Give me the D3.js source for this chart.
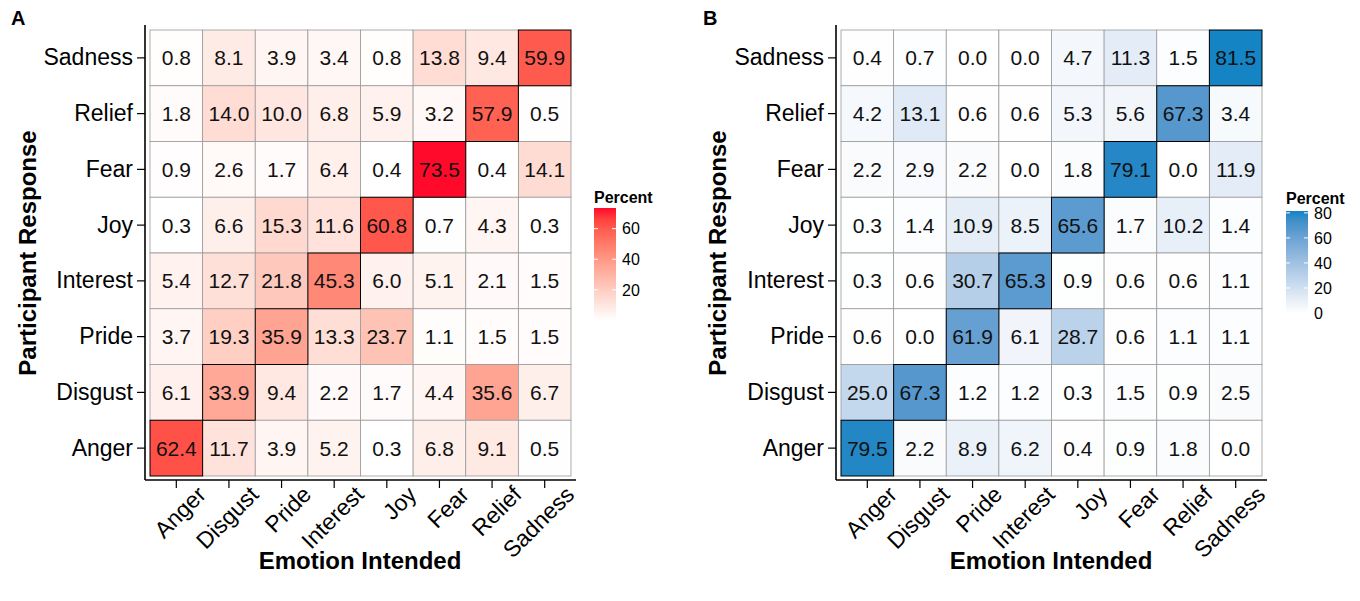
<!DOCTYPE html>
<html>
<head>
<meta charset="utf-8">
<script src="https://cdn.jsdelivr.net/npm/d3@7"></script>
<style>
  body { margin: 0; background: #fff; }
  text { font-family: "Liberation Sans", Arial, sans-serif; }
</style>
</head>
<body>
<svg id="chart" width="1360" height="601"></svg>
<script>
// emotions, used on both axes
const emotions = ['Anger', 'Disgust', 'Pride', 'Interest', 'Joy', 'Fear', 'Relief', 'Sadness'];

// rows = participant response (Sadness at top ... Anger at bottom), cols = emotion intended
const rowsTop = ['Sadness', 'Relief', 'Fear', 'Joy', 'Interest', 'Pride', 'Disgust', 'Anger'];

const valuesA = [
  [0.8, 8.1, 3.9, 3.4, 0.8, 13.8, 9.4, 59.9],
  [1.8, 14.0, 10.0, 6.8, 5.9, 3.2, 57.9, 0.5],
  [0.9, 2.6, 1.7, 6.4, 0.4, 73.5, 0.4, 14.1],
  [0.3, 6.6, 15.3, 11.6, 60.8, 0.7, 4.3, 0.3],
  [5.4, 12.7, 21.8, 45.3, 6.0, 5.1, 2.1, 1.5],
  [3.7, 19.3, 35.9, 13.3, 23.7, 1.1, 1.5, 1.5],
  [6.1, 33.9, 9.4, 2.2, 1.7, 4.4, 35.6, 6.7],
  [62.4, 11.7, 3.9, 5.2, 0.3, 6.8, 9.1, 0.5]
];

const valuesB = [
  [0.4, 0.7, 0.0, 0.0, 4.7, 11.3, 1.5, 81.5],
  [4.2, 13.1, 0.6, 0.6, 5.3, 5.6, 67.3, 3.4],
  [2.2, 2.9, 2.2, 0.0, 1.8, 79.1, 0.0, 11.9],
  [0.3, 1.4, 10.9, 8.5, 65.6, 1.7, 10.2, 1.4],
  [0.3, 0.6, 30.7, 65.3, 0.9, 0.6, 0.6, 1.1],
  [0.6, 0.0, 61.9, 6.1, 28.7, 0.6, 1.1, 1.1],
  [25.0, 67.3, 1.2, 1.2, 0.3, 1.5, 0.9, 2.5],
  [79.5, 2.2, 8.9, 6.2, 0.4, 0.9, 1.8, 0.0]
];

const legendTicksA = [20, 40, 60];
const legendTicksB = [0, 20, 40, 60, 80];

const svg = d3.select('#chart');

function toCells(values) {
  const out = [];
  rowsTop.forEach((r, i) => emotions.forEach((c, j) => {
    out.push({ row: r, col: c, v: values[i][j], diag: r === c });
  }));
  return out;
}

function drawPanel(o) {
  const cells = toCells(o.values);
  const g = svg.append('g');

  const x = d3.scaleBand().domain(emotions).range([o.left, o.left + 421]);
  const y = d3.scaleBand().domain(rowsTop).range([30, 476]);

  const ext = d3.extent(cells, d => d.v);
  const col = d3.scaleLinear().domain([o.zeroMin ? 0 : ext[0], ext[1]])
    .range(['#ffffff', o.high]).interpolate(d3.interpolateLab);

  const sorted = cells.slice().sort((a, b) => a.diag - b.diag);
  g.selectAll('rect.cell')
    .data(sorted)
    .join('rect')
      .attr('class', 'cell')
      .attr('x', d => x(d.col))
      .attr('y', d => y(d.row))
      .attr('width', x.bandwidth())
      .attr('height', y.bandwidth())
      .attr('fill', d => col(d.v))
      .attr('stroke', d => d.diag ? '#000' : '#9a9a9a')
      .attr('stroke-width', d => d.diag ? 1 : 0.8);

  g.selectAll('text.val')
    .data(cells)
    .join('text')
      .attr('class', 'val')
      .attr('x', d => x(d.col) + x.bandwidth() / 2)
      .attr('y', d => y(d.row) + y.bandwidth() / 2)
      .attr('dy', '0.36em')
      .attr('text-anchor', 'middle')
      .attr('font-size', 21)
      .attr('fill', '#111')
      .text(d => d.v.toFixed(1));

  // axes
  const ax = o.left - 5;
  const yAxis = g.append('g')
    .attr('transform', `translate(${ax},0)`)
    .call(d3.axisLeft(y).tickSize(8).tickSizeOuter(0).tickPadding(4));
  yAxis.select('.domain').attr('d', `M0,25V480`);
  const xAxis = g.append('g')
    .attr('transform', `translate(0,480)`)
    .call(d3.axisBottom(x).tickSize(8).tickSizeOuter(0));
  xAxis.select('.domain').attr('d', `M${ax},0H${o.left + 426}`);
  g.selectAll('.domain').attr('stroke', '#000').attr('stroke-width', 1.6);
  g.selectAll('.tick line').attr('stroke', '#000').attr('stroke-width', 1.2);
  yAxis.selectAll('.tick text')
    .attr('font-size', 23).attr('fill', '#000')
    .attr('font-family', '"Liberation Sans", Arial, sans-serif');
  xAxis.selectAll('.tick text')
    .attr('font-size', 23).attr('fill', '#000')
    .attr('font-family', '"Liberation Sans", Arial, sans-serif')
    .attr('text-anchor', 'end')
    .attr('dy', null)
    .attr('y', 0)
    .attr('transform', 'translate(31,16) rotate(-45)');

  // titles
  g.append('text')
    .attr('transform', `translate(${o.ylabX},253) rotate(-90)`)
    .attr('text-anchor', 'middle')
    .attr('dy', '0.36em')
    .attr('font-size', 24).attr('font-weight', 'bold')
    .text('Participant Response');
  g.append('text')
    .attr('x', o.left + 210).attr('y', 569)
    .attr('text-anchor', 'middle')
    .attr('font-size', 24).attr('font-weight', 'bold')
    .text('Emotion Intended');
  g.append('text')
    .attr('x', o.tagX).attr('y', 25)
    .attr('font-size', 20).attr('font-weight', 'bold')
    .text(o.tag);

  // legend
  const lg = g.append('g');
  const ls = d3.scaleLinear().domain(col.domain()).range([o.legBottom, o.legTop]);
  const gradId = 'grad' + o.tag;
  const grad = svg.append('defs').append('linearGradient')
    .attr('id', gradId).attr('x1', 0).attr('x2', 0).attr('y1', 1).attr('y2', 0);
  d3.range(0, 1.0001, 0.1).forEach(t => {
    const v = col.domain()[0] + t * (col.domain()[1] - col.domain()[0]);
    grad.append('stop').attr('offset', t).attr('stop-color', col(v));
  });
  lg.append('text')
    .attr('x', o.legX).attr('y', o.legTitleY)
    .attr('font-size', 16).attr('font-weight', 'bold')
    .text('Percent');
  lg.append('rect')
    .attr('x', o.legX).attr('y', o.legTop)
    .attr('width', 22).attr('height', o.legBottom - o.legTop)
    .attr('fill', `url(#${gradId})`);
  lg.selectAll('line.lt')
    .data(o.legTicks.flatMap(t => [[t, 0], [t, 1]]))
    .join('line')
      .attr('x1', d => d[1] ? o.legX + 22 - 4 : o.legX)
      .attr('x2', d => d[1] ? o.legX + 22 : o.legX + 4)
      .attr('y1', d => ls(d[0])).attr('y2', d => ls(d[0]))
      .attr('stroke', '#fff').attr('stroke-width', 1);
  lg.selectAll('text.ll')
    .data(o.legTicks)
    .join('text')
      .attr('class', 'll')
      .attr('x', o.legX + 28)
      .attr('y', d => ls(d))
      .attr('dy', '0.36em')
      .attr('font-size', 16)
      .text(d => d);
}

drawPanel({
  values: valuesA, left: 150, high: '#ff0a2a', zeroMin: false,
  ylabX: 27, tag: 'A', tagX: 11,
  legX: 594, legTop: 208, legBottom: 320, legTitleY: 203, legTicks: legendTicksA
});

drawPanel({
  values: valuesB, left: 841, high: '#1484c4', zeroMin: true,
  ylabX: 717, tag: 'B', tagX: 703,
  legX: 1286, legTop: 211, legBottom: 313, legTitleY: 204, legTicks: legendTicksB
});
</script>
</body>
</html>
